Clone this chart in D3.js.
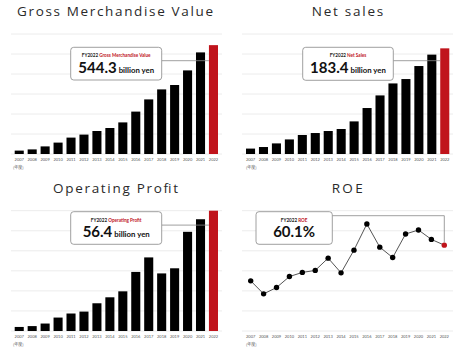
<!DOCTYPE html>
<html><head><meta charset="utf-8">
<script src="https://cdn.jsdelivr.net/npm/d3@7"></script>
<style>
html,body{margin:0;padding:0;background:#fff;}
svg{display:block;}
</style></head>
<body>
<svg id="c" width="471" height="360"></svg>
<script>
const years = ["2007","2008","2009","2010","2011","2012","2013","2014","2015","2016","2017","2018","2019","2020","2021","2022"];
const gmv = [17,23,38,57,82,97,115,130,158,212,273,323,345,418,508,544.3];
const netSales = [9.4,12.1,18.4,25.3,33,36.4,39.9,43.4,56.6,79.8,101.7,122.5,130.1,152.7,172.5,183.4];
const opProfit = [1.9,2.3,3.5,6.3,8.2,9.1,13.0,15.8,18.6,27.7,34.5,27.0,29.4,46.5,52.4,56.4];
const roe = [35.1,26.0,30.4,38.1,41.0,42.4,51.0,40.7,56.6,74.9,58.7,51.4,67.9,70.7,64.1,60.1];
const titles = ["Gross Merchandise Value","Net sales","Operating Profit","ROE"];
const calloutLabels = ["Gross Merchandise Value","Net Sales","Operating Profit","ROE"];
const calloutValues = ["544.3","183.4","56.4","60.1%"];
const unitLabel = "billion yen";
const yearUnit = "(年度)";

const RED = "#c0141c";
const svg = d3.select("#c");

const panels = [
  {ox:0, oy:0, data:gmv, yMax:600, type:"bar", titleY:16.3, titleX:115, titleW:196, gx0:11, gx1:222, top:34, base:154, xr:[14.7,218],
   box:[70.7,47.3,91,32.7], tickY:160.8, unitY:168.5, unitX:13},
  {ox:235, oy:0, data:netSales, yMax:208.3, type:"bar", titleY:16.3, titleX:112.5, titleW:71.6, gx0:7, gx1:218, top:34, base:154, xr:[11,214.3],
   box:[67.7,47.3,90.6,33], tickY:160.8, unitY:168.5, unitX:11},
  {ox:0, oy:180, data:opProfit, yMax:56.4, type:"bar", titleY:12.8, titleX:115.5, titleW:125, gx0:11, gx1:222, top:30.7, base:151, xr:[14.7,218],
   box:[70.7,31.7,91,32.6], tickY:157.5, unitY:165.5, unitX:13},
  {ox:235, oy:180, data:roe, yMax:84.2, type:"line", titleY:12.8, titleX:112.2, titleW:31, gx0:7, gx1:218, top:30.7, base:151, xr:[15.7,209.3],
   box:[21,31.7,76.3,32.6], tickY:157.5, unitY:165.5, unitX:11}
];

panels.forEach((p, i) => {
  const g = svg.append("g").attr("transform", `translate(${p.ox},${p.oy})`);
  // title
  g.append("text").attr("x", p.titleX).attr("y", p.titleY)
    .attr("text-anchor","middle").attr("font-family","'Open Sans', Lato, sans-serif")
    .attr("font-size", 13.5).attr("textLength", p.titleW).attr("lengthAdjust","spacing")
    .attr("fill","#2a2a2a").text(titles[i]);

  const y = d3.scaleLinear().domain([0, p.yMax]).range([p.base, p.top]);
  // gridlines
  g.append("g").selectAll("line").data(d3.range(0, 7).map(k => k * p.yMax / 6)).join("line")
    .attr("x1", p.gx0).attr("x2", p.gx1)
    .attr("y1", d => y(d)).attr("y2", d => y(d))
    .attr("stroke", "#ececec").attr("stroke-width", 1);

  let xPos, lastLeft, lastY;
  if (p.type === "bar") {
    const x = d3.scaleBand().domain(years).range(p.xr).paddingInner(0.3).paddingOuter(0);
    g.append("g").selectAll("rect").data(p.data).join("rect")
      .attr("x", (d, k) => x(years[k])).attr("width", x.bandwidth())
      .attr("y", d => y(d)).attr("height", d => p.base - y(d))
      .attr("fill", (d, k) => k === years.length - 1 ? RED : "#000");
    xPos = k => x(years[k]) + x.bandwidth() / 2;
    lastLeft = x(years[years.length - 1]);
  } else {
    const x = d3.scalePoint().domain(years).range(p.xr);
    const line = d3.line().x((d, k) => x(years[k])).y(d => y(d));
    g.append("path").datum(p.data).attr("d", line).attr("fill","none")
      .attr("stroke","#555").attr("stroke-width",1);
    g.append("g").selectAll("circle").data(p.data).join("circle")
      .attr("cx", (d, k) => x(years[k])).attr("cy", d => y(d)).attr("r", 2.7)
      .attr("fill", (d, k) => k === years.length - 1 ? RED : "#000");
    xPos = k => x(years[k]);
    lastLeft = x(years[years.length - 1]);
    lastY = y(p.data[p.data.length - 1]);
  }

  // year ticks
  g.append("g").selectAll("text").data(years).join("text")
    .attr("x", (d, k) => xPos(k)).attr("y", p.tickY).attr("text-anchor","middle")
    .attr("font-family","Lato, sans-serif").attr("font-size", 4).attr("fill","#555").text(d => d);
  g.append("text").attr("x", p.unitX).attr("y", p.unitY)
    .attr("font-family","'Noto Sans CJK JP', sans-serif").attr("font-size", 4).attr("fill","#555").text(yearUnit);

  // callout connector
  const [bx, by, bw, bh] = p.box;
  if (p.type === "bar") {
    const ly = by + 13.4;
    g.append("line").attr("x1", bx + bw).attr("x2", lastLeft).attr("y1", ly).attr("y2", ly)
      .attr("stroke","#888").attr("stroke-width",0.8);
  } else {
    const ly = by + 4;
    g.append("path").attr("d", `M${bx + bw},${ly}H${lastLeft}V${lastY - 2.7}`)
      .attr("fill","none").attr("stroke","#888").attr("stroke-width",0.8);
  }
  g.append("rect").attr("x", bx).attr("y", by).attr("width", bw).attr("height", bh)
    .attr("rx", 3).attr("fill","#fff").attr("stroke","#888").attr("stroke-width",0.8);
  const cx = bx + bw / 2;
  const small = g.append("text").attr("x", cx).attr("y", by + 10).attr("text-anchor","middle")
    .attr("font-family","Lato, sans-serif").attr("font-size", 4.6).attr("font-weight","bold");
  small.append("tspan").attr("fill","#222").text("FY2022 ");
  small.append("tspan").attr("fill", RED).text(calloutLabels[i]);
  const big = g.append("text").attr("x", cx).attr("y", by + 25.5).attr("text-anchor","middle")
    .attr("font-family","Lato, sans-serif").attr("font-weight","bold").attr("fill","#111");
  big.append("tspan").attr("font-size", 15).text(calloutValues[i]);
  if (p.type === "bar") {
    big.append("tspan").attr("font-size", 7.8).attr("dx", 2).text(unitLabel);
  }
});
</script>
</body></html>
